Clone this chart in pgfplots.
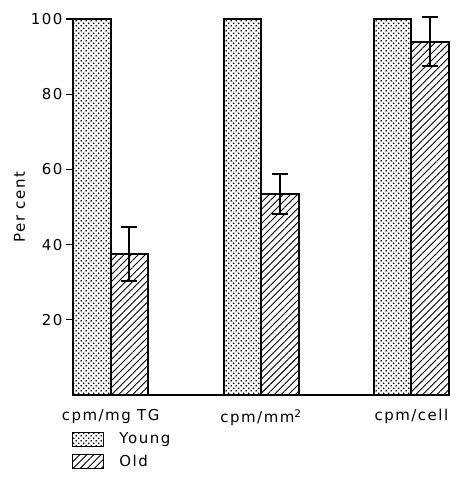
\documentclass[border=0pt]{standalone}
\usepackage{fontspec}
\setmainfont{DejaVu Sans}[LetterSpace=10]
\usepackage{pgfplots}
\pgfplotsset{compat=1.18}
\usetikzlibrary{patterns.meta}

% staggered stipple for the Young bars
\pgfdeclarepatternformonly{stipple}{\pgfpoint{-1pt}{-1pt}}{\pgfpoint{6pt}{6pt}}{\pgfpoint{5pt}{5pt}}{
  \pgfpathcircle{\pgfpoint{1.2pt}{1.2pt}}{0.95pt}
  \pgfpathcircle{\pgfpoint{3.7pt}{3.7pt}}{0.95pt}
  \pgfusepath{fill}
}

\begin{document}
\begin{tikzpicture}
\begin{axis}[
    name=ax,
    scale only axis,
    width=376pt, height=376pt,
    ybar=0pt, bar width=37.5pt,
    xmin=-0.25, xmax=2.25,
    ymin=0, ymax=100,
    axis x line=bottom, axis y line=left,
    axis line style={-, line width=1.6pt},
    y axis line style={draw=none},
    xtick={0,1,2},
    xticklabels={cpm/mg TG, cpm/mm\textsuperscript{2}, cpm/cell},
    x tick style={draw=none},
    ytick={20,40,60,80,100},
    tick align=outside,
    major tick length=7pt,
    y tick style={black, line width=1.3pt},
    tick label style={font=\fontsize{15}{17}\selectfont},
    /pgf/number format/assume math mode=true,
    ylabel={Per cent},
    ylabel style={font=\fontsize{15}{17}\selectfont, yshift=-1pt},
    xticklabel style={yshift=-4pt},
    legend style={draw=none, at={(-0.01,-0.09)}, anchor=north west,
        font=\fontsize{15}{17}\selectfont, row sep=6pt},
    legend cell align=left,
    legend image code/.code={
        \draw[#1, line width=1pt] (0cm,-7pt) rectangle (31pt,7pt);},
    clip=false,
]
\addplot[draw=black, line width=2pt, pattern=stipple]
    coordinates {(0,100) (1,100) (2,100)};
\addlegendentry{\hspace{13pt}Young}
\addplot[draw=black, line width=2pt,
    pattern={Lines[angle=45, distance=5pt, line width=0.9pt]},
    error bars/.cd, y dir=both, y explicit,
    error bar style={line width=2pt, draw=black},
    error mark options={rotate=90, mark size=8pt, line width=2pt}]
    coordinates {
    (0,37.5) +- (0,7.3)
    (1,53.5) +- (0,5.3)
    (2,94) +- (0,6.5)
};
\addlegendentry{\hspace{13pt}Old}
\end{axis}
\path (ax.south west) ++(-73pt,-97pt) coordinate (bl);
\path (ax.north east) ++(6pt,19pt) coordinate (tr);
\useasboundingbox (bl) rectangle (tr);
\end{tikzpicture}
\end{document}
